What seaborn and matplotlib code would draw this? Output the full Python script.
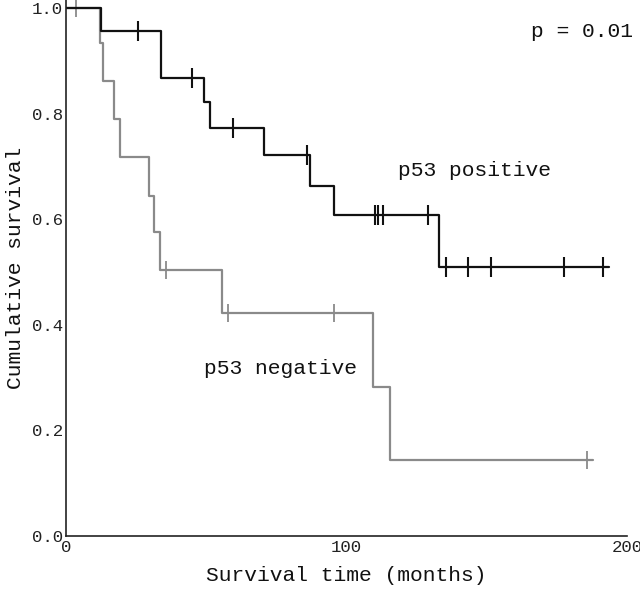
import numpy as np
import pandas as pd
import matplotlib.pyplot as plt
import seaborn as sns

# p53 positive: event times and survival after each drop
pos_event_t = [12.5, 34, 49.3, 51.4, 70.7, 87, 95.4, 133]
pos_event_s = [0.956, 0.867, 0.822, 0.773, 0.721, 0.663, 0.608, 0.509]
pos_censor_t = [25.7, 45, 59.6, 86, 110, 111.4, 112.9, 129, 135.4, 143.2, 151.4, 177.5, 191.4]
pos_end = 193.6

# p53 negative
neg_event_t = [12.1, 13.2, 17.1, 19.3, 29.6, 31.4, 33.6, 55.7, 109.6, 115.4]
neg_event_s = [0.934, 0.862, 0.79, 0.718, 0.644, 0.576, 0.504, 0.422, 0.282, 0.144]
neg_censor_t = [3.6, 35.7, 57.9, 95.4, 185.7]
neg_end = 188

def step_frame(ev_t, ev_s, end):
    x = [0] + list(ev_t) + [end]
    y = [1.0] + list(ev_s) + [ev_s[-1]]
    return pd.DataFrame({"t": x, "s": y})

def censor_frame(ev_t, ev_s, c_t):
    idx = np.searchsorted(ev_t, c_t, side="right")
    levels = np.concatenate([[1.0], ev_s])
    return pd.DataFrame({"t": c_t, "s": levels[idx]})

sns.set_theme(style="white")
plt.rcParams['font.family'] = ['Liberation Mono', 'DejaVu Sans']

fig = plt.figure(figsize=(6.4, 5.91), dpi=100)
ax = fig.add_axes([0.1031, 0.0931, 0.8766, 0.9069])

black = "#111111"
gray = "#8a8a8a"

sns.lineplot(data=step_frame(neg_event_t, neg_event_s, neg_end), x="t", y="s", ax=ax,
             drawstyle="steps-post", estimator=None, sort=False, color=gray, linewidth=1.6)
sns.lineplot(data=step_frame(pos_event_t, pos_event_s, pos_end), x="t", y="s", ax=ax,
             drawstyle="steps-post", estimator=None, sort=False, color=black, linewidth=1.6)

sns.scatterplot(data=censor_frame(neg_event_t, neg_event_s, neg_censor_t), x="t", y="s", ax=ax,
                marker="|", s=160, linewidth=1.3, color=gray, clip_on=False)
sns.scatterplot(data=censor_frame(pos_event_t, pos_event_s, pos_censor_t), x="t", y="s", ax=ax,
                marker="|", s=200, linewidth=1.5, color=black, clip_on=False)

ax.set_xlim(0, 200)
ax.set_ylim(0, 1.0152)
ax.set_xticks([0, 100, 200])
ax.set_yticks([0, 0.2, 0.4, 0.6, 0.8, 1.0])
ax.set_yticklabels(["0.0", "0.2", "0.4", "0.6", "0.8", "1.0"])
ax.tick_params(direction="in", length=10.8, width=1.1, colors="#222222", labelsize=12.5)
ax.tick_params(axis="y", pad=2)
ax.tick_params(axis="x", pad=3)

for side in ["top", "right"]:
    ax.spines[side].set_visible(False)
for side in ["left", "bottom"]:
    ax.spines[side].set_color("#222222")
    ax.spines[side].set_linewidth(1.2)

ax.set_xlabel("Survival time (months)", fontsize=15.3, color="#111111", labelpad=8)
ax.set_ylabel("Cumulative survival", fontsize=15.3, color="#111111", labelpad=5)

ax.text(184, 0.956, "p = 0.01", fontsize=15.3, ha="center", va="center", color="#111111")
ax.text(145.5, 0.693, "p53 positive", fontsize=15.3, ha="center", va="center", color="#111111")
ax.text(76.5, 0.318, "p53 negative", fontsize=15.3, ha="center", va="center", color="#111111")

plt.savefig("out.png", dpi=100)
plt.close()
